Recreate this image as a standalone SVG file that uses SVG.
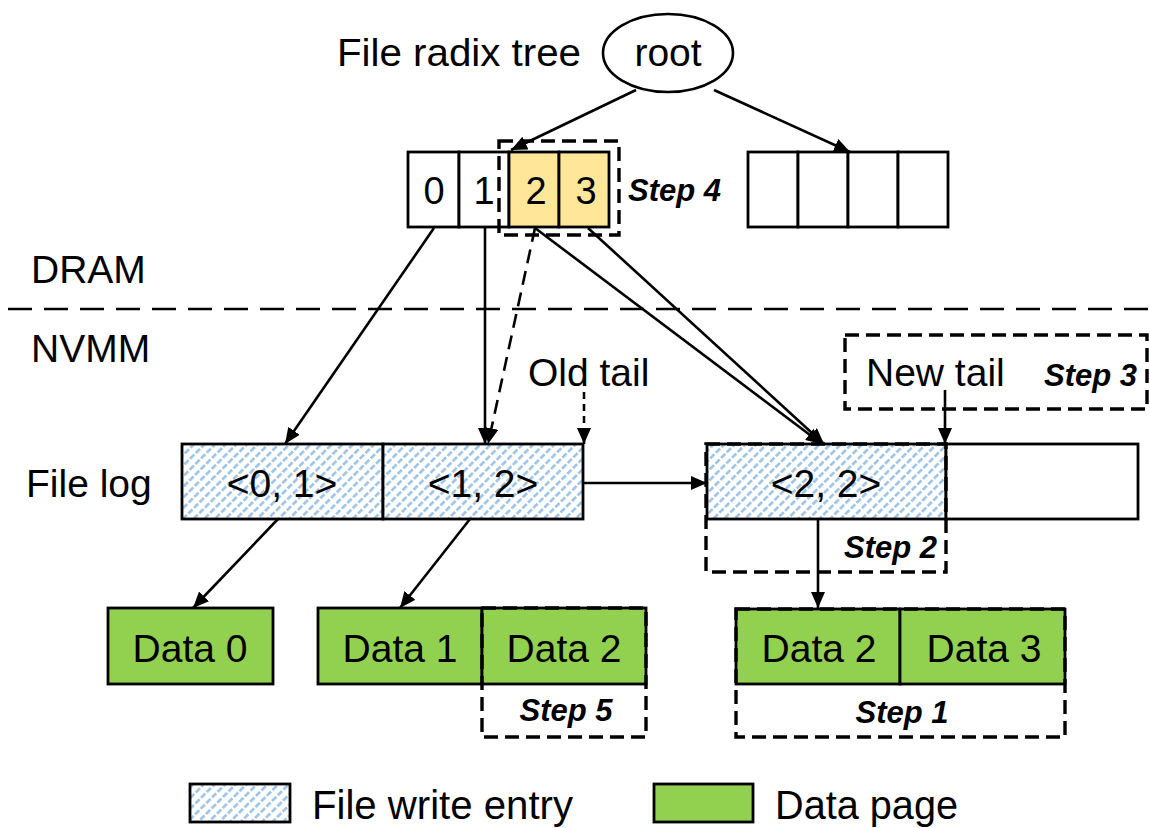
<svg xmlns="http://www.w3.org/2000/svg" width="1150" height="828" viewBox="0 0 1150 828">
  <style>
    text { font-family: "Liberation Sans", Arial, sans-serif; fill: #000; }
    .lbl { font-size: 39px; }
    .num { font-size: 38px; text-anchor: middle; }
    .mid { text-anchor: middle; }
    .step { font-size: 31px; font-weight: bold; font-style: italic; }
    .box { stroke: #000; stroke-width: 2.8; }
    .dbox { fill: none; stroke: #000; stroke-width: 3.4; stroke-dasharray: 14 7; }
    .wire { stroke: #000; stroke-width: 2.6; fill: none; }
    .arrow { marker-end: url(#head); }
  </style>
  <defs>
    <pattern id="hatch" patternUnits="userSpaceOnUse" width="7.5" height="8" patternTransform="rotate(45)">
      <rect x="0" y="0" width="7.5" height="8" fill="#ffffff"/>
      <rect x="0" y="0" width="2.6" height="6" fill="#9DC3E6"/>
    </pattern>
    <marker id="head" viewBox="0 0 16 14" refX="16" refY="7" markerWidth="16" markerHeight="14" markerUnits="userSpaceOnUse" orient="auto">
      <path d="M0,0 L16,7 L0,14 Z" fill="#000"/>
    </marker>
  </defs>

  <!-- tree root -->
  <g id="root">
    <ellipse cx="668" cy="53" rx="65" ry="39" fill="#fff" stroke="#000" stroke-width="2.6"/>
    <text class="lbl mid" x="668" y="66">root</text>
  </g>
  <text id="tree-label" class="lbl" x="337" y="66" textLength="244" lengthAdjust="spacingAndGlyphs">File radix tree</text>

  <!-- left radix node -->
  <g id="node-left">
    <rect class="box" x="408" y="152" width="51" height="75" fill="#fff"/>
    <rect class="box" x="459" y="152" width="50" height="75" fill="#fff"/>
    <rect class="box" x="509" y="152" width="50" height="75" fill="#FFE699"/>
    <rect class="box" x="559" y="152" width="50" height="75" fill="#FFE699"/>
    <text class="num" x="434" y="204">0</text>
    <text class="num" x="484" y="204">1</text>
    <text class="num" x="536" y="204">2</text>
    <text class="num" x="586" y="204">3</text>
  </g>
  <g id="step4">
    <rect class="dbox" x="499" y="141" width="120" height="94"/>
    <text class="step" x="628" y="201">Step 4</text>
  </g>

  <!-- right radix node -->
  <g id="node-right">
    <rect class="box" x="748" y="152" width="50" height="75" fill="#fff"/>
    <rect class="box" x="798" y="152" width="50" height="75" fill="#fff"/>
    <rect class="box" x="848" y="152" width="50" height="75" fill="#fff"/>
    <rect class="box" x="898" y="152" width="50" height="75" fill="#fff"/>
  </g>

  <!-- memory boundary -->
  <g id="boundary">
    <line x1="8" y1="309" x2="1150" y2="309" stroke="#000" stroke-width="2.6" stroke-dasharray="24 12"/>
    <text class="lbl" x="31" y="283">DRAM</text>
    <text class="lbl" x="31" y="362">NVMM</text>
  </g>

  <!-- file log -->
  <text id="log-label" class="lbl" x="26" y="497">File log</text>
  <g id="entry-01">
    <rect class="box" x="182" y="444" width="201" height="75" fill="url(#hatch)"/>
    <text class="lbl mid" x="282" y="497">&lt;0, 1&gt;</text>
  </g>
  <g id="entry-12">
    <rect class="box" x="383" y="444" width="200" height="75" fill="url(#hatch)"/>
    <text class="lbl mid" x="483" y="497">&lt;1, 2&gt;</text>
  </g>
  <g id="entry-22">
    <rect class="box" x="707" y="444" width="239" height="75" fill="url(#hatch)"/>
    <text class="lbl mid" x="826" y="497">&lt;2, 2&gt;</text>
  </g>
  <g id="log-free">
    <rect class="box" x="946" y="444" width="192" height="75" fill="#fff"/>
  </g>
  <g id="step2">
    <rect class="dbox" x="706" y="444" width="240" height="128"/>
    <text class="step" x="937" y="558" text-anchor="end">Step 2</text>
  </g>

  <!-- tail pointers -->
  <text id="old-tail" class="lbl" x="528" y="386">Old tail</text>
  <g id="step3">
    <rect class="dbox" x="845" y="335" width="302" height="74"/>
    <text class="lbl" x="866" y="386">New tail</text>
    <text class="step" x="1137" y="386" text-anchor="end">Step 3</text>
  </g>

  <!-- data pages -->
  <g id="data0">
    <rect class="box" x="108" y="608" width="165" height="76" fill="#92D050"/>
    <text class="lbl mid" x="190" y="662">Data 0</text>
  </g>
  <g id="data1">
    <rect class="box" x="318" y="608" width="164" height="76" fill="#92D050"/>
    <text class="lbl mid" x="400" y="662">Data 1</text>
  </g>
  <g id="data2-old">
    <rect class="box" x="482" y="608" width="164" height="76" fill="#92D050"/>
    <text class="lbl mid" x="564" y="662">Data 2</text>
  </g>
  <g id="step5">
    <rect class="dbox" x="482" y="608" width="164" height="129"/>
    <text class="step mid" x="566" y="721">Step 5</text>
  </g>
  <g id="data2-new">
    <rect class="box" x="736" y="609" width="164" height="75" fill="#92D050"/>
    <text class="lbl mid" x="819" y="662">Data 2</text>
  </g>
  <g id="data3">
    <rect class="box" x="900" y="609" width="165" height="75" fill="#92D050"/>
    <text class="lbl mid" x="984" y="662">Data 3</text>
  </g>
  <g id="step1">
    <rect class="dbox" x="736" y="609" width="329" height="128"/>
    <text class="step mid" x="902" y="723">Step 1</text>
  </g>

  <!-- connectors -->
  <g id="connectors">
    <line class="wire arrow" x1="636" y1="90" x2="511" y2="150"/>
    <line class="wire arrow" x1="714" y1="90" x2="850" y2="152"/>
    <line class="wire arrow" x1="434" y1="228" x2="285" y2="444"/>
    <line class="wire arrow" x1="485" y1="228" x2="485" y2="444"/>
    <line class="wire arrow" x1="535" y1="228" x2="488" y2="444" stroke-dasharray="14 8"/>
    <line class="wire arrow" x1="535" y1="228" x2="822" y2="444"/>
    <line class="wire arrow" x1="588" y1="228" x2="824" y2="444"/>
    <line class="wire arrow" x1="584" y1="392" x2="584" y2="444" stroke-dasharray="7 5"/>
    <line class="wire arrow" x1="583" y1="483" x2="707" y2="483"/>
    <line class="wire arrow" x1="945" y1="390" x2="945" y2="444"/>
    <line class="wire arrow" x1="278" y1="519" x2="193" y2="608"/>
    <line class="wire arrow" x1="470" y1="519" x2="400" y2="608"/>
    <line class="wire arrow" x1="818" y1="519" x2="818" y2="608"/>
  </g>

  <!-- legend -->
  <g id="legend">
    <rect class="box" x="190" y="784" width="100" height="38" fill="url(#hatch)"/>
    <text x="312" y="819" font-size="40" textLength="261" lengthAdjust="spacingAndGlyphs">File write entry</text>
    <rect class="box" x="654" y="784" width="99" height="38" fill="#92D050"/>
    <text x="775" y="819" font-size="40" textLength="183" lengthAdjust="spacingAndGlyphs">Data page</text>
  </g>
</svg>
